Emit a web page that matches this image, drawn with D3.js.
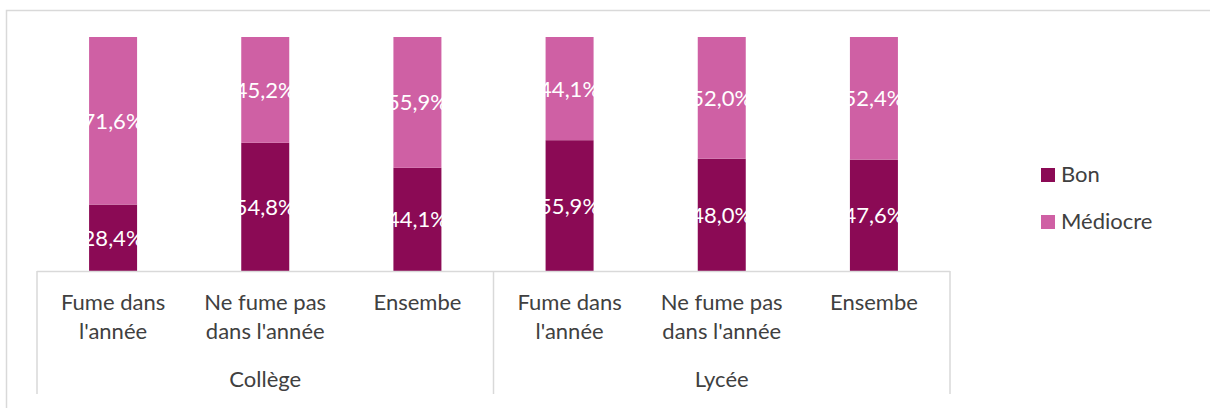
<!DOCTYPE html>
<html><head><meta charset="utf-8">
<script src="https://cdn.jsdelivr.net/npm/d3@7"></script>
<style>body{margin:0;background:#fff;}svg{display:block;}text{font-family:Lato,"Open Sans",sans-serif;}</style>
</head><body>
<svg id="c" width="1210" height="408"></svg>
<script>
const groups = ["Collège", "Lycée"];
const categories = ["Fume dans|l'année", "Ne fume pas|dans l'année", "Ensembe"];
const series = ["Bon", "Médiocre"];
const bon = [28.4, 54.8, 44.1, 55.9, 48.0, 47.6];
const mediocre = [71.6, 45.2, 55.9, 44.1, 52.0, 52.4];
const colors = ["#8B0A55", "#CF60A4"];

const svg = d3.select("#c");
const gridColor = "#D9D9D9", textColor = "#404040";

// chart border
svg.append("rect").attr("x", 6.5).attr("y", 10.5).attr("width", 1220).attr("height", 420)
  .attr("fill", "none").attr("stroke", gridColor).attr("stroke-width", 1.5);

const rows = [];
groups.forEach((g, gi) => categories.forEach((c, ci) => rows.push({g, c, i: gi * categories.length + ci})));
rows.forEach(r => { r.Bon = bon[r.i]; r["Médiocre"] = mediocre[r.i]; });

const x0 = 37, x1 = 950, yTop = 37, yBot = 271;
const pad = 1 - 48 / ((x1 - x0) / rows.length);
const x = d3.scaleBand().domain(rows.map(r => r.i)).range([x0, x1]).paddingInner(pad).paddingOuter(pad / 2);
const y = d3.scaleLinear().domain([0, 100]).range([yBot, yTop]);

const stack = d3.stack().keys(series)(rows);

const layer = svg.append("g").selectAll("g").data(stack).join("g").attr("fill", (d, i) => colors[i]);
layer.selectAll("rect").data(d => d).join("rect")
  .attr("x", d => x(d.data.i)).attr("width", x.bandwidth())
  .attr("y", d => y(d[1])).attr("height", d => y(d[0]) - y(d[1]));

const fmt = v => v.toFixed(1).replace(".", ",") + "%";
const lab = svg.append("g");
stack.forEach(s => {
  lab.selectAll(null).data(s).join("text")
    .attr("x", d => x(d.data.i) + x.bandwidth() / 2)
    .attr("y", d => (y(d[0]) + y(d[1])) / 2 + 8)
    .attr("text-anchor", "middle").attr("fill", "#fff").attr("font-size", 22)
    .text(d => fmt(d[1] - d[0]));
});

// category axis
const ax = svg.append("g").attr("stroke", gridColor).attr("stroke-width", 1.5);
ax.append("line").attr("x1", x0).attr("x2", x1).attr("y1", yBot + 0.5).attr("y2", yBot + 0.5);
const bounds = [x0, (x0 + x1) / 2, x1];
ax.selectAll(null).data(bounds).join("line")
  .attr("x1", d => d).attr("x2", d => d).attr("y1", yBot).attr("y2", 394);

const cl = svg.append("g").attr("fill", textColor).attr("font-size", 22).attr("text-anchor", "middle");
rows.forEach(r => {
  const t = cl.append("text").attr("x", x(r.i) + x.bandwidth() / 2).attr("y", 310);
  r.c.split("|").forEach((line, k) => t.append("tspan").attr("x", x(r.i) + x.bandwidth() / 2).attr("dy", k ? 29 : 0).text(line));
});
groups.forEach((g, gi) => {
  const ids = rows.filter(r => r.g === g).map(r => r.i);
  const cx = (x(ids[0]) + x(ids[ids.length - 1]) + x.bandwidth()) / 2;
  cl.append("text").attr("x", cx).attr("y", 387).text(g);
});

// legend
const lg = svg.append("g");
series.forEach((s, i) => {
  const yy = 168 + i * 47;
  lg.append("rect").attr("x", 1041).attr("y", yy).attr("width", 14).attr("height", 14).attr("fill", colors[i]);
  lg.append("text").attr("x", 1061).attr("y", yy + 14).attr("font-size", 22).attr("fill", textColor).text(s);
});
</script>
</body></html>
